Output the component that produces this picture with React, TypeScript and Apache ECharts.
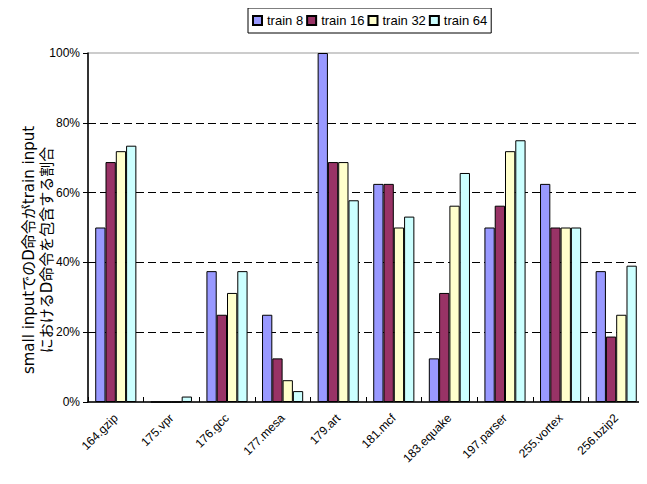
import React, { useEffect, useRef } from "react";
import * as echarts from "echarts";

const categories = [
  "164.gzip", "175.vpr", "176.gcc", "177.mesa", "179.art",
  "181.mcf", "183.equake", "197.parser", "255.vortex", "256.bzip2",
];
const seriesNames = ["train 8", "train 16", "train 32", "train 64"];
const train8 = [50, 0, 37.5, 25, 100, 62.5, 12.5, 50, 62.5, 37.5];
const train16 = [68.75, 0, 25, 12.5, 68.75, 62.5, 31.25, 56.25, 50, 18.75];
const train32 = [71.875, 0, 31.25, 6.25, 68.75, 50, 56.25, 71.875, 50, 25];
const train64 = [73.44, 1.56, 37.5, 3.125, 57.8, 53.125, 65.625, 75, 50, 39.06];
const seriesValues = [train8, train16, train32, train64];
const colors = ["#9999FF", "#993366", "#FFFFCC", "#CCFFFF"];
const yTicks = [0, 20, 40, 60, 80, 100];
const yTitle = "small inputでのD命令がtrain input\nにおけるD命令を包含する割合";

const FONT = "'Liberation Sans', Arial, sans-serif";

export default function App() {
  const ref = useRef<HTMLDivElement>(null);
  useEffect(() => {
    if (!ref.current) return;
    const chart = echarts.init(ref.current, undefined, { renderer: "svg" });
    chart.setOption({
      animation: false,
      backgroundColor: "#fff",
      textStyle: { fontFamily: FONT },
      legend: {
        top: 8,
        left: 248,
        data: seriesNames,
        borderColor: "#000",
        borderWidth: 1,
        padding: [6, 4],
        itemGap: 3,
        itemWidth: 9,
        itemHeight: 9,
        icon: "rect",
        textStyle: { fontSize: 13, color: "#000", fontFamily: FONT },
      },
      grid: {
        left: 88,
        right: 3,
        top: 53,
        bottom: 82,
        show: true,
        borderColor: "#999",
        borderWidth: 1,
        backgroundColor: "#fff",
      },
      graphic: [
        {
          type: "text",
          x: 38,
          y: 250,
          rotation: Math.PI / 2,
          style: {
            text: yTitle,
            font: "15px 'DejaVu Sans', 'Noto Sans CJK JP', sans-serif",
            fill: "#000",
            align: "center",
            verticalAlign: "middle",
            lineHeight: 18,
          },
        },
      ],
      xAxis: {
        type: "category",
        data: categories,
        axisLine: { lineStyle: { color: "#000", width: 1.5 } },
        axisTick: { show: true, inside: true, length: 5, lineStyle: { color: "#000" } },
        axisLabel: {
          rotate: 45,
          interval: 0,
          margin: 14,
          fontSize: 12,
          color: "#000",
          fontFamily: FONT,
        },
      },
      yAxis: {
        type: "value",
        min: yTicks[0],
        max: yTicks[yTicks.length - 1],
        interval: 20,
        axisLine: { show: true, lineStyle: { color: "#000", width: 1.5 } },
        axisTick: { show: true, inside: false, length: 5, lineStyle: { color: "#000" } },
        axisLabel: {
          formatter: "{value}%",
          fontSize: 12,
          color: "#000",
          margin: 8,
          fontFamily: FONT,
        },
        splitLine: {
          show: true,
          lineStyle: {
            color: ["transparent", "#000", "#000", "#000", "#000", "transparent"],
            type: [8, 4],
            width: 1,
          },
        },
      },
      series: seriesNames.map((name, i) => ({
        name,
        type: "bar",
        data: seriesValues[i],
        barGap: "0%",
        barCategoryGap: "26%",
        itemStyle: { color: colors[i], borderColor: "#000", borderWidth: 1 },
      })),
    });
    return () => chart.dispose();
  }, []);
  return <div ref={ref} style={{ width: 647, height: 484, margin: -8 }} />;
}
